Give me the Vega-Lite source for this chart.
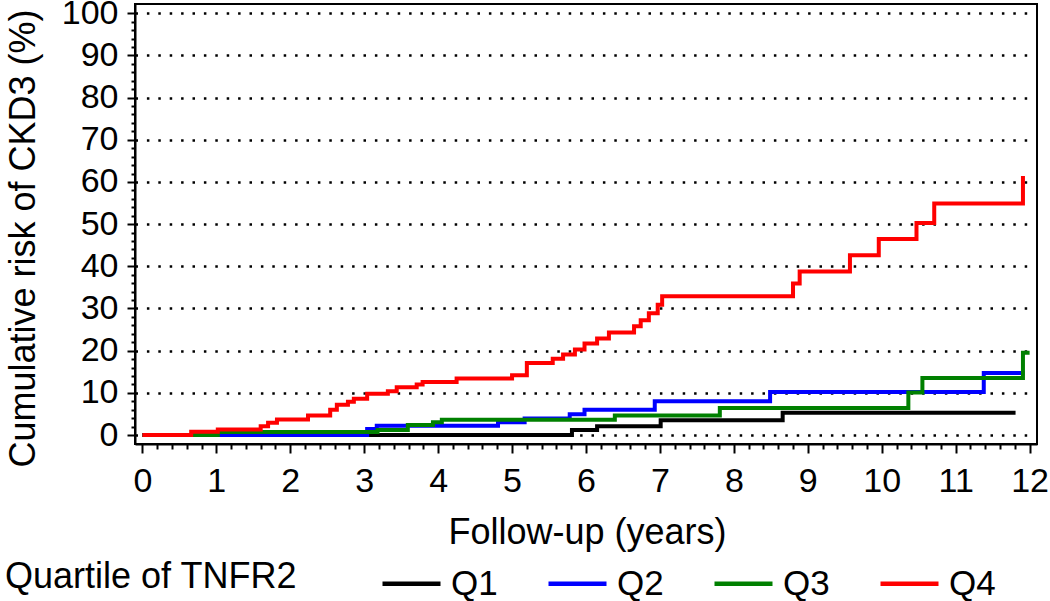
{
  "$schema": "https://vega.github.io/schema/vega-lite/v6.json",
  "width": 902,
  "height": 440,
  "autosize": {"type": "none"},
  "padding": {"left": 135, "top": 4, "right": 13, "bottom": 157},
  "background": "white",
  "config": {
    "view": {"stroke": "black", "strokeWidth": 2},
    "font": "Liberation Sans",
    "axis": {
      "labelFont": "Liberation Sans",
      "titleFont": "Liberation Sans",
      "labelColor": "black",
      "titleColor": "black",
      "domainColor": "black",
      "domainWidth": 2,
      "tickColor": "black",
      "tickWidth": 2,
      "titleFontWeight": "normal"
    }
  },
  "data": {
    "values": [
      {"q": "Q1", "t": 0, "r": 0},
      {"q": "Q1", "t": 5.81, "r": 1.2},
      {"q": "Q1", "t": 6.15, "r": 2.1},
      {"q": "Q1", "t": 7.01, "r": 3.5},
      {"q": "Q1", "t": 8.66, "r": 5.3},
      {"q": "Q1", "t": 11.81, "r": 5.3},
      {"q": "Q2", "t": 0, "r": 0},
      {"q": "Q2", "t": 3.04, "r": 1.4},
      {"q": "Q2", "t": 3.17, "r": 2.2},
      {"q": "Q2", "t": 4.81, "r": 3.0},
      {"q": "Q2", "t": 5.17, "r": 3.9},
      {"q": "Q2", "t": 5.78, "r": 4.9},
      {"q": "Q2", "t": 5.98, "r": 6.0},
      {"q": "Q2", "t": 6.93, "r": 8.0},
      {"q": "Q2", "t": 8.49, "r": 10.2},
      {"q": "Q2", "t": 11.38, "r": 14.7},
      {"q": "Q2", "t": 11.93, "r": 14.7},
      {"q": "Q3", "t": 0, "r": 0},
      {"q": "Q3", "t": 1.02, "r": 0.7},
      {"q": "Q3", "t": 3.18, "r": 1.2},
      {"q": "Q3", "t": 3.59, "r": 2.4},
      {"q": "Q3", "t": 3.93, "r": 3.0},
      {"q": "Q3", "t": 4.05, "r": 3.6},
      {"q": "Q3", "t": 6.39, "r": 4.6},
      {"q": "Q3", "t": 7.81, "r": 6.4},
      {"q": "Q3", "t": 10.36, "r": 10.1},
      {"q": "Q3", "t": 10.55, "r": 13.5},
      {"q": "Q3", "t": 11.91, "r": 19.5},
      {"q": "Q3", "t": 12.0, "r": 19.5},
      {"q": "Q4", "t": 0, "r": 0},
      {"q": "Q4", "t": 0.66, "r": 0.8},
      {"q": "Q4", "t": 1.02, "r": 1.3},
      {"q": "Q4", "t": 1.6, "r": 2.1},
      {"q": "Q4", "t": 1.7, "r": 2.9},
      {"q": "Q4", "t": 1.82, "r": 3.7},
      {"q": "Q4", "t": 2.24, "r": 4.6},
      {"q": "Q4", "t": 2.54, "r": 6.0},
      {"q": "Q4", "t": 2.63, "r": 7.2},
      {"q": "Q4", "t": 2.78, "r": 7.9},
      {"q": "Q4", "t": 2.86, "r": 8.6},
      {"q": "Q4", "t": 3.04, "r": 9.8},
      {"q": "Q4", "t": 3.32, "r": 10.4},
      {"q": "Q4", "t": 3.44, "r": 11.3},
      {"q": "Q4", "t": 3.71, "r": 12.0},
      {"q": "Q4", "t": 3.79, "r": 12.6},
      {"q": "Q4", "t": 4.25, "r": 13.4},
      {"q": "Q4", "t": 5.0, "r": 14.2},
      {"q": "Q4", "t": 5.2, "r": 17.1},
      {"q": "Q4", "t": 5.55, "r": 18.1},
      {"q": "Q4", "t": 5.69, "r": 19.1},
      {"q": "Q4", "t": 5.85, "r": 20.3},
      {"q": "Q4", "t": 5.98, "r": 21.7},
      {"q": "Q4", "t": 6.15, "r": 22.9},
      {"q": "Q4", "t": 6.31, "r": 24.3},
      {"q": "Q4", "t": 6.65, "r": 25.8},
      {"q": "Q4", "t": 6.74, "r": 27.2},
      {"q": "Q4", "t": 6.85, "r": 28.9},
      {"q": "Q4", "t": 6.97, "r": 30.9},
      {"q": "Q4", "t": 7.03, "r": 32.9},
      {"q": "Q4", "t": 8.8, "r": 35.9},
      {"q": "Q4", "t": 8.89, "r": 38.8},
      {"q": "Q4", "t": 9.57, "r": 42.6},
      {"q": "Q4", "t": 9.96, "r": 46.5},
      {"q": "Q4", "t": 10.47, "r": 50.3},
      {"q": "Q4", "t": 10.71, "r": 54.9},
      {"q": "Q4", "t": 11.91, "r": 61.4}
    ]
  },
  "mark": {"type": "line", "interpolate": "step-after", "strokeWidth": 4, "strokeJoin": "miter", "clip": true},
  "encoding": {
    "x": {
      "field": "t",
      "type": "quantitative",
      "scale": {"domain": [-0.1, 12.1], "nice": false, "zero": false},
      "axis": {
        "title": "Follow-up (years)",
        "titleFontSize": 36,
        "titleX": 452,
        "titleY": 88,
        "titleBaseline": "middle",
        "titleAnchor": null,
        "titleLimit": 1000,
        "labelFontSize": 34,
        "labelPadding": 11,
        "labelExpr": "abs(datum.value - round(datum.value)) < 0.01 ? '' + round(datum.value) : ''",
        "labelFlush": false,
        "labelOverlap": false,
        "values": [0,0.2,0.4,0.6,0.8,1,1.2,1.4,1.6,1.8,2,2.2,2.4,2.6,2.8,3,3.2,3.4,3.6,3.8,4,4.2,4.4,4.6,4.8,5,5.2,5.4,5.6,5.8,6,6.2,6.4,6.6,6.8,7,7.2,7.4,7.6,7.8,8,8.2,8.4,8.6,8.8,9,9.2,9.4,9.6,9.8,10,10.2,10.4,10.6,10.8,11,11.2,11.4,11.6,11.8,12],
        "tickSize": {"condition": {"test": "abs(datum.value - round(datum.value)) < 0.01", "value": 9}, "value": 5},
        "grid": false
      }
    },
    "y": {
      "field": "r",
      "type": "quantitative",
      "scale": {"domain": [-2.13, 102.2], "nice": false, "zero": false},
      "axis": {
        "title": "Cumulative risk of CKD3 (%)",
        "titleFontSize": 36,
        "titleX": -112,
        "titleY": 234,
        "titleBaseline": "middle",
        "titleAnchor": null,
        "titleLimit": 1000,
        "labelFontSize": 34,
        "labelPadding": 9,
        "labelExpr": "datum.value % 10 === 0 ? datum.label : ''",
        "labelOverlap": false,
        "labelFlush": false,
        "values": [0,2,4,6,8,10,12,14,16,18,20,22,24,26,28,30,32,34,36,38,40,42,44,46,48,50,52,54,56,58,60,62,64,66,68,70,72,74,76,78,80,82,84,86,88,90,92,94,96,98,100],
        "tickSize": {"condition": {"test": "datum.value % 10 === 0", "value": 8}, "value": 4},
        "grid": true,
        "gridColor": "black",
        "gridWidth": 2.5,
        "gridDash": [2.5, 8.9],
        "gridOpacity": {"condition": {"test": "datum.value % 10 === 0", "value": 1}, "value": 0}
      }
    },
    "color": {
      "field": "q",
      "type": "nominal",
      "scale": {"domain": ["Q1", "Q2", "Q3", "Q4"], "range": ["#000000", "#0000FF", "#008000", "#FF0000"]},
      "legend": {
        "title": "Quartile of TNFR2",
        "orient": "none",
        "legendX": -130,
        "legendY": 548,
        "direction": "horizontal",
        "columns": 4,
        "titleOrient": "left",
        "titleFontSize": 36,
        "titleFontWeight": "normal",
        "titleFont": "Liberation Sans",
        "titleColor": "black",
        "titleLimit": 1000,
        "titlePadding": 82,
        "titleBaseline": "middle",
        "labelFontSize": 35,
        "labelFont": "Liberation Sans",
        "labelColor": "black",
        "labelLimit": 500,
        "labelOffset": 8,
        "symbolType": "stroke",
        "symbolSize": 3364,
        "symbolStrokeWidth": 4.5,
        "columnPadding": 41
      }
    }
  }
}
